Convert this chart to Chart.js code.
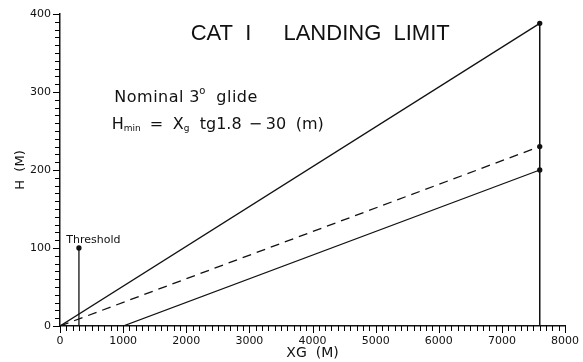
<!DOCTYPE html>
<html>
<head>
<meta charset="utf-8">
<script src="https://cdn.jsdelivr.net/npm/chart.js@4.4.1/dist/chart.umd.min.js"></script>
<style>
  html, body { margin: 0; padding: 0; background: #fff; }
  #wrap { width: 583px; height: 362px; position: relative; }
</style>
</head>
<body>
<div id="wrap"><canvas id="landingChart"></canvas></div>
<script>
// distances along ground (m) and heights (m)
var glideX = [0, 7600];
var glideH = [0, 388];
var limitX = [0, 7600];
var limitH = [0, 230];
var minX = [1000, 7600];
var minH = [0, 200];
var endX = [7600, 7600];
var endH = [0, 388];
var thresholdX = [300, 300];
var thresholdH = [0, 100];

var xTickLabels = ['0', '1000', '2000', '3000', '4000', '5000', '6000', '7000', '8000'];
var yTickLabels = ['0', '100', '200', '300', '400'];

function pts(xs, ys) {
    return xs.map(function (x, i) { return { x: x, y: ys[i] }; });
}

var ink = '#111';

// pieces are [text, x offset, font size, y offset]
function drawPieces(c, parts, px, py) {
    parts.forEach(function (p) {
        c.font = p[2] + 'px "DejaVu Sans", sans-serif';
        c.fillText(p[0], px + p[1], py + p[3]);
    });
}

// tick marks: long at labelled ticks, short in between
var tickPlugin = {
    id: 'tickMarks',
    afterDraw: function (chart) {
        var c = chart.ctx, xs = chart.scales.x, ys = chart.scales.y, a = chart.chartArea;
        var v, p;
        c.save();
        c.strokeStyle = '#000';
        c.lineWidth = 1;
        c.beginPath();
        for (v = xs.min; v <= xs.max; v += 100) {
            p = Math.round(xs.getPixelForValue(v)) + 0.5;
            c.moveTo(p, a.bottom);
            c.lineTo(p, a.bottom + (v % 1000 === 0 ? 7 : 5));
        }
        for (v = ys.min; v <= ys.max; v += 10) {
            p = Math.round(ys.getPixelForValue(v)) + 0.5;
            c.moveTo(a.left, p);
            c.lineTo(a.left - (v % 100 === 0 ? 7 : 5), p);
        }
        c.stroke();
        c.restore();
    }
};

var textPlugin = {
    id: 'notes',
    afterDatasetsDraw: function (chart) {
        var c = chart.ctx, xs = chart.scales.x, ys = chart.scales.y;
        c.save();
        c.fillStyle = ink;
        c.textBaseline = 'middle';
        c.textAlign = 'left';

        // title inside the plot
        c.font = '22px "Liberation Sans", Arial, sans-serif';
        var ty = ys.getPixelForValue(375);
        c.fillText('CAT  I', xs.getPixelForValue(2070), ty);
        c.fillText('LANDING  LIMIT', xs.getPixelForValue(3540), ty);

        c.letterSpacing = '0.5px';
        drawPieces(c, [['Nominal', 0, 16, 0], ['3', 75, 16, 0], ['o', 85, 10, -7], ['glide', 102, 16, 0]],
            xs.getPixelForValue(860), ys.getPixelForValue(292));
        c.letterSpacing = '0px';

        drawPieces(c, [['H', 0, 16, 0], ['min', 12, 9, 4], ['=', 38, 16, 0], ['X', 61, 16, 0],
                       ['g', 72, 9, 4], ['tg1.8', 88, 16, 0], ['\u2212', 137, 16, 0],
                       ['30', 154, 16, 0], ['(m)', 184, 16, 0]],
            xs.getPixelForValue(820), ys.getPixelForValue(258));

        c.font = '11px "DejaVu Sans", sans-serif';
        c.textBaseline = 'bottom';
        c.fillText('Threshold', xs.getPixelForValue(100), ys.getPixelForValue(103));
        c.restore();
    }
};

var ctx = document.getElementById('landingChart').getContext('2d');
var landingChart = new Chart(ctx, {
    type: 'scatter',
    data: {
        datasets: [
            { data: pts(glideX, glideH), showLine: true, borderColor: ink, borderWidth: 1.3,
              pointRadius: [0, 2], backgroundColor: ink },
            { data: pts(limitX, limitH), showLine: true, borderColor: ink, borderWidth: 1.3,
              borderDash: [9, 6], pointRadius: [0, 2], backgroundColor: ink },
            { data: pts(minX, minH), showLine: true, borderColor: ink, borderWidth: 1.3,
              pointRadius: [0, 2], backgroundColor: ink },
            { data: pts(endX, endH), showLine: true, borderColor: ink, borderWidth: 1.5,
              pointRadius: 0 },
            { data: pts(thresholdX, thresholdH), showLine: true, borderColor: ink, borderWidth: 1.3,
              pointRadius: [0, 2], backgroundColor: ink }
        ]
    },
    options: {
        responsive: true,
        maintainAspectRatio: false,
        animation: false,
        layout: { padding: { top: 14, right: 15, left: 6, bottom: 0 } },
        scales: {
            x: {
                type: 'linear',
                min: 0,
                max: 8000,
                afterFit: function (s) { s.height = 36; },
                border: { display: true, color: ink, width: 1.5 },
                grid: { drawOnChartArea: false, tickLength: 5, color: ink, tickColor: 'rgba(0,0,0,0)' },
                ticks: {
                    stepSize: 1000,
                    autoSkip: false,
                    maxRotation: 0,
                    padding: 4,
                    color: ink,
                    font: { family: '"DejaVu Sans", sans-serif', size: 11 },
                    callback: function (v) { return xTickLabels[v / 1000]; }
                },
                title: {
                    display: true,
                    text: 'XG  (M)',
                    color: ink,
                    padding: 0,
                    font: { family: '"DejaVu Sans", sans-serif', size: 14 }
                }
            },
            y: {
                min: 0,
                max: 400,
                afterFit: function (s) { s.width = 54; },
                border: { display: true, color: ink, width: 1.5 },
                grid: { drawOnChartArea: false, tickLength: 5, color: ink, tickColor: 'rgba(0,0,0,0)' },
                ticks: {
                    stepSize: 100,
                    autoSkip: false,
                    padding: 4,
                    color: ink,
                    font: { family: '"DejaVu Sans", sans-serif', size: 11 },
                    callback: function (v) { return yTickLabels[v / 100]; }
                },
                title: {
                    display: true,
                    text: 'H  (M)',
                    color: ink,
                    padding: { top: 7, bottom: 7 },
                    font: { family: '"DejaVu Sans", sans-serif', size: 13 }
                }
            }
        },
        plugins: {
            legend: { display: false },
            tooltip: { enabled: false }
        }
    },
    plugins: [tickPlugin, textPlugin]
});
</script>
</body>
</html>
